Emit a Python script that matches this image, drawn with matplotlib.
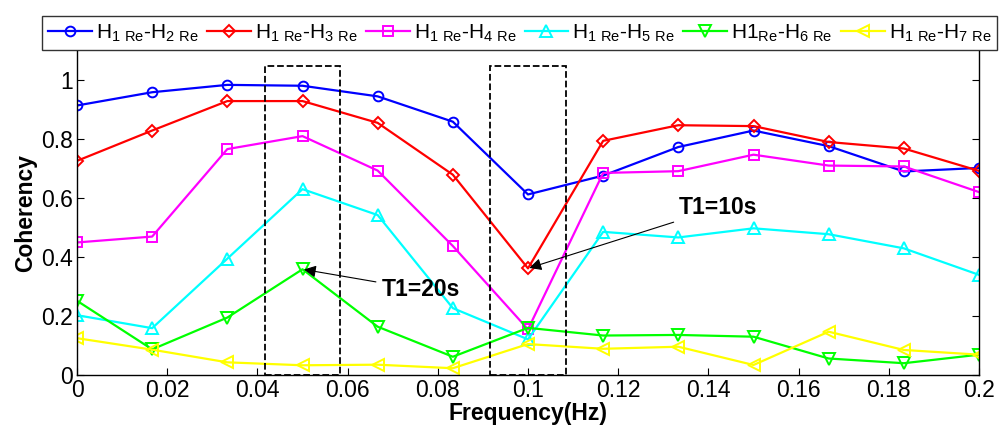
import matplotlib.pyplot as plt
import matplotlib.patches as patches

plt.rcParams['font.family'] = ['Liberation Sans', 'DejaVu Sans']
plt.rcParams['mathtext.default'] = 'regular'

# frequency steps of 1/60 Hz
freq = [i / 60 for i in range(13)]

h12 = [0.915, 0.960, 0.985, 0.982, 0.946, 0.860, 0.613, 0.677, 0.774, 0.830, 0.777, 0.691, 0.703]
h13 = [0.727, 0.830, 0.930, 0.930, 0.856, 0.680, 0.362, 0.795, 0.848, 0.845, 0.791, 0.769, 0.693]
h14 = [0.450, 0.470, 0.767, 0.811, 0.694, 0.438, 0.155, 0.686, 0.692, 0.748, 0.711, 0.708, 0.621]
h15 = [0.203, 0.159, 0.395, 0.631, 0.543, 0.227, 0.121, 0.486, 0.467, 0.498, 0.478, 0.430, 0.340]
h16 = [0.252, 0.087, 0.195, 0.359, 0.164, 0.062, 0.160, 0.134, 0.136, 0.130, 0.056, 0.040, 0.069]
h17 = [0.125, 0.086, 0.043, 0.033, 0.035, 0.023, 0.105, 0.089, 0.096, 0.034, 0.147, 0.085, 0.069]

labels = [r'H$_{1\ Re}$-H$_{2\ Re}$', r'H$_{1\ Re}$-H$_{3\ Re}$', r'H$_{1\ Re}$-H$_{4\ Re}$',
          r'H$_{1\ Re}$-H$_{5\ Re}$', r'H1$_{Re}$-H$_{6\ Re}$', r'H$_{1\ Re}$-H$_{7\ Re}$']

fig = plt.figure(figsize=(10.01, 4.26), dpi=100)
ax = fig.add_axes([77 / 1001, 1 - 375 / 426, 902 / 1001, 324 / 426])

series = [h12, h13, h14, h15, h16, h17]
colors = ['#0000ff', '#ff0000', '#ff00ff', '#00ffff', '#00ff00', '#ffff00']
markers = ['o', 'D', 's', '^', 'v', '<']
sizes = [7, 6, 7, 8, 8, 8]
handles = []
for y, c, m, s, lab in zip(series, colors, markers, sizes, labels):
    h, = ax.plot(freq, y, color=c, marker=m, markersize=s, markerfacecolor='none',
                 markeredgecolor=c, markeredgewidth=1.4, linewidth=1.6, label=lab)
    handles.append(h)

# dashed boxes around the two periods
for xc in [0.05, 0.1]:
    ax.add_patch(patches.Rectangle((xc - 1 / 120, 0), 1 / 60, 1.05, fill=False,
                                   edgecolor='black', linestyle='--', linewidth=1.3, zorder=5))

ax.annotate('T1=20s', xy=(0.05, 0.359), xytext=(0.0675, 0.29), fontsize=16.5, fontweight='bold',
            va='center', ha='left',
            arrowprops=dict(arrowstyle='-|>', color='black', lw=0.8, mutation_scale=18,
                            shrinkA=2, shrinkB=1))
ax.annotate('T1=10s', xy=(0.1, 0.362), xytext=(0.1335, 0.567), fontsize=16.5, fontweight='bold',
            va='center', ha='left',
            arrowprops=dict(arrowstyle='-|>', color='black', lw=0.8, mutation_scale=18,
                            shrinkA=2, shrinkB=1))

ax.set_xlim(0, 0.2)
ax.set_ylim(0, 1.1)
ax.set_xticks([0, 0.02, 0.04, 0.06, 0.08, 0.1, 0.12, 0.14, 0.16, 0.18, 0.2])
ax.set_xticklabels(['0', '0.02', '0.04', '0.06', '0.08', '0.1', '0.12', '0.14', '0.16', '0.18', '0.2'])
ax.set_yticks([0, 0.2, 0.4, 0.6, 0.8, 1])
ax.set_yticklabels(['0', '0.2', '0.4', '0.6', '0.8', '1'])
ax.tick_params(direction='in', length=5, labelsize=16.5, right=True, width=0.8, pad=3)
for sp in ax.spines.values():
    sp.set_linewidth(1.0)
ax.spines['top'].set_visible(False)

ax.set_xlabel('Frequency(Hz)', fontsize=16.5, fontweight='bold', labelpad=0)
ax.set_ylabel('Coherency', fontsize=16.5, fontweight='bold', labelpad=3)

# one-row legend running past the right edge, as in the source figure
leg = fig.legend(handles=handles, loc='upper left', bbox_to_anchor=(42 / 1001, 1 - 16 / 426),
                 ncol=6, fontsize=15, frameon=True, fancybox=False, edgecolor='black',
                 handlelength=2.1, handletextpad=0.2, columnspacing=0.4,
                 borderpad=0.3, borderaxespad=0)
leg.get_frame().set_linewidth(1.0)

fig.savefig('out.png', dpi=100)
